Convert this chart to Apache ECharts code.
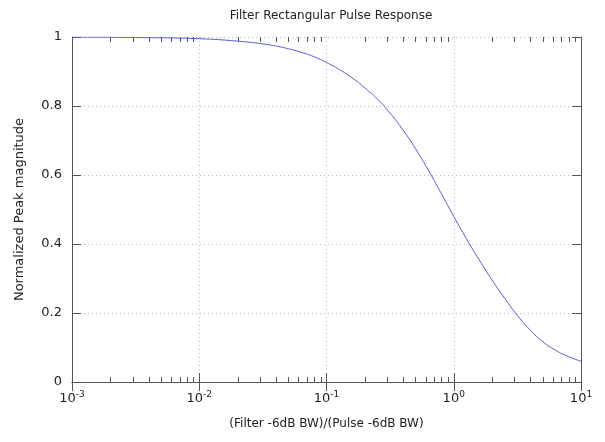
<!DOCTYPE html>
<html><head><meta charset="utf-8">
<script src="https://cdn.jsdelivr.net/npm/echarts@6/dist/echarts.min.js"></script>
<style>html,body{margin:0;padding:0;background:#fff}#c{width:605px;height:442px}</style>
</head><body><div id="c"></div>
<script>
const titleText = 'Filter Rectangular Pulse Response';
const xTitle = '(Filter -6dB BW)/(Pulse -6dB BW)';
const yTitle = 'Normalized Peak magnitude';
const xValues = [0.001, 0.00316, 0.01, 0.02, 0.0316, 0.0398, 0.0501, 0.0631, 0.0794, 0.1, 0.1259, 0.1585, 0.1995, 0.2512, 0.3162, 0.3981, 0.5012, 0.631, 0.794, 1.0, 1.259, 1.585, 1.995, 2.512, 3.162, 3.981, 5.012, 6.31, 7.943, 10];
const yValues = [0.9997, 0.9985, 0.995, 0.988, 0.980, 0.974, 0.966, 0.956, 0.943, 0.926, 0.906, 0.882, 0.853, 0.820, 0.779, 0.731, 0.676, 0.614, 0.548, 0.480, 0.415, 0.354, 0.296, 0.243, 0.193, 0.151, 0.117, 0.092, 0.074, 0.060];
const decadeExponents = ['-3', '-2', '-1', '0', '1'];
const minorMultipliers = [2, 3, 4, 5, 6, 7, 8, 9];
const minorDecades = [0.001, 0.01, 0.1, 1];

const minorTicks = [];
minorDecades.forEach(d => minorMultipliers.forEach(m => minorTicks.push([+(m * d).toPrecision(3), 0])));

const chart = echarts.init(document.getElementById('c'));
const axisColor = '#555';
const textColor = '#222';
const fontFam = 'DejaVu Sans';
const expOf = v => decadeExponents[Math.round(Math.log10(v)) + 3];

chart.setOption({
  animation: false,
  backgroundColor: '#fff',
  title: {
    text: titleText, left: 326, top: 5, textAlign: 'center',
    textStyle: { fontFamily: fontFam, fontSize: 12, fontWeight: 'normal', color: textColor }
  },
  grid: { left: 72, right: 24, top: 37, bottom: 60 },
  xAxis: [{
    type: 'log', logBase: 10, min: 0.001, max: 10,
    name: xTitle, nameLocation: 'middle', nameGap: 36,
    nameTextStyle: { fontFamily: fontFam, fontSize: 12, color: textColor },
    axisLine: { show: true, lineStyle: { color: axisColor, width: 1 } },
    axisTick: { show: true, inside: true, length: 9, lineStyle: { color: axisColor } },
    splitLine: { show: true, lineStyle: { color: '#bbb', type: [1, 3], width: 1 } },
    axisLabel: {
      margin: 8, color: textColor, fontFamily: fontFam, fontSize: 13,
      formatter: v => '{b|10}{s|' + expOf(v) + '}',
      rich: {
        b: { fontFamily: fontFam, fontSize: 13, color: textColor },
        s: { fontFamily: fontFam, fontSize: 9, color: textColor, padding: [0, 0, 9, 0] }
      }
    }
  }, {
    type: 'log', logBase: 10, min: 0.001, max: 10, position: 'top',
    axisLine: { show: true, lineStyle: { color: axisColor, width: 1 } },
    axisTick: { show: true, inside: true, length: 9, lineStyle: { color: axisColor } },
    axisLabel: { show: false }, splitLine: { show: false }
  }],
  yAxis: [{
    type: 'value', min: 0, max: 1, interval: 0.2,
    name: yTitle, nameLocation: 'middle', nameGap: 46, nameRotate: 90,
    nameTextStyle: { fontFamily: fontFam, fontSize: 13, color: textColor },
    axisLine: { show: true, lineStyle: { color: axisColor, width: 1 } },
    axisTick: { show: true, inside: true, length: 9, lineStyle: { color: axisColor } },
    splitLine: { show: true, lineStyle: { color: '#bbb', type: [1, 3], width: 1 } },
    axisLabel: { margin: 10, color: textColor, fontFamily: fontFam, fontSize: 13 }
  }, {
    type: 'value', min: 0, max: 1, interval: 0.2, position: 'right',
    axisLine: { show: true, lineStyle: { color: axisColor, width: 1 } },
    axisTick: { show: true, inside: true, length: 9, lineStyle: { color: axisColor } },
    axisLabel: { show: false }, splitLine: { show: false }
  }],
  series: [{
    type: 'custom', xAxisIndex: 0, yAxisIndex: 0, silent: true, clip: false, z: 3,
    data: minorTicks,
    renderItem: (params, api) => {
      const b = api.coord([api.value(0), 0]);
      const t = api.coord([api.value(0), 1]);
      const x = Math.round(b[0]) + 0.5;
      return { type: 'group', children: [
        { type: 'line', shape: { x1: x, y1: b[1], x2: x, y2: b[1] - 5 }, style: { stroke: axisColor, lineWidth: 1 } },
        { type: 'line', shape: { x1: x, y1: t[1], x2: x, y2: t[1] + 5 }, style: { stroke: axisColor, lineWidth: 1 } }
      ]};
    }
  }, {
    type: 'line', xAxisIndex: 0, yAxisIndex: 0, smooth: 0.5, showSymbol: false, z: 4,
    lineStyle: { color: '#5a5ad2', width: 1 },
    data: xValues.map((x, i) => [x, yValues[i]])
  }]
});
</script></body></html>
